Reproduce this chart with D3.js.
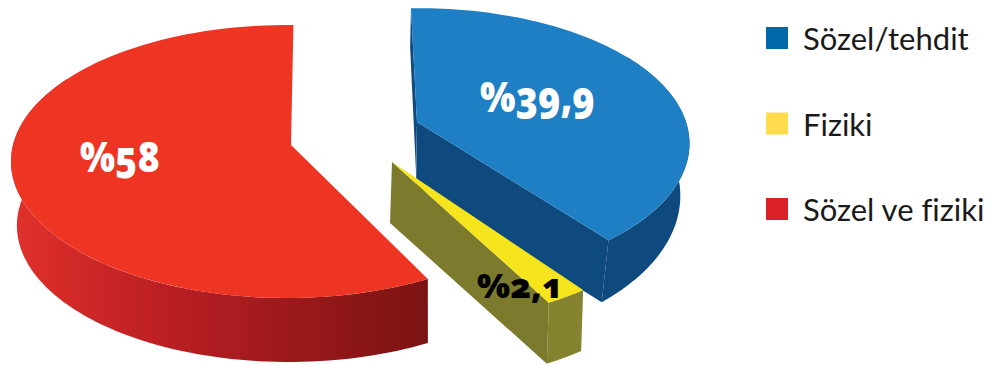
<!DOCTYPE html>
<html lang="tr">
<head>
<meta charset="utf-8">
<script src="https://cdn.jsdelivr.net/npm/d3@7"></script>
<style>
  html, body { margin: 0; padding: 0; background: #fff; }
  svg { display: block; }
  .legend text { font-family: Lato, sans-serif; font-size: 31px; fill: #1a1a1a; }
  .value { font-family: "Open Sans", sans-serif; font-variant-numeric: oldstyle-nums; }
</style>
</head>
<body>
<svg id="chart" width="995" height="365"></svg>
<script>
// Violence type shares (percent)
const categories = ["Sözel/tehdit", "Fiziki", "Sözel ve fiziki"];
const shares = [39.9, 2.1, 58];
const valueLabels = ["%39,9", "%2,1", "%58"];

// Flat colours for the legend keys
const legendColors = ["#0067a8", "#ffdc4e", "#da2128"];

// Geometry of each exploded wedge, indexed like the categories
const wedges = [
  { cx: 419, cy: 122, ax: 417, ay: 122, rx: 267, ry: 132, k: 0.16, turn: -2, depth: 50, depthSlope: 0.1, apexDepth: 64, taper: 0.97, shift: -1,
    top: "#1f7fc4", wall: "#0f4a7e", end: "#0f4a7e", wallFrom: 60, startWall: true, endWall: true },
  { cx: 392, cy: 162, ax: 392, ay: 162, rx: 291, ry: 143.5, k: 0.121, turn: 0, depth: 61, depthSlope: 0, apexDepth: 61, taper: 1, shift: -2,
    top: "#f6e41c", wall: "#85832f", end: "#7c7a2c", wallFrom: 0, startWall: false, endWall: true },
  { cx: 287, cy: 145, ax: 291, ay: 145, rx: 274, ry: 134.5, k: 0.121, turn: 1.5, depth: 64, depthSlope: 0, apexDepth: 64, taper: 0.986, shift: 2,
    top: "#ee3524", wall: "url(#redWall)", end: null, wallFrom: 0, wallTo: 300, startWall: false, endWall: false }
];

const rad = Math.PI / 180;

const svg = d3.select("#chart");

// Outer wall of the red wedge darkens towards its front corner
const grad = svg.append("defs").append("linearGradient")
  .attr("id", "redWall").attr("gradientUnits", "userSpaceOnUse")
  .attr("x1", 15).attr("x2", 428).attr("y1", 0).attr("y2", 0);
[[0, "#e0302a"], [0.38, "#b91e23"], [0.62, "#a01a1c"], [0.85, "#8a1617"], [1, "#7a1213"]]
  .forEach(([o, c]) => grad.append("stop").attr("offset", o).attr("stop-color", c));

// Angular extent comes straight from the shares, clockwise from twelve o'clock
const arcs = d3.pie().sort(null).value(d => d)(shares);

// Ground-plane point on a wedge's rim to screen position, with foreshortening
function rim(w, a) {
  const t = a + w.turn * rad;
  const s = 1 / (1 + w.k * Math.cos(t));
  return [w.cx + w.rx * Math.sin(t) * s, w.cy - w.ry * Math.cos(t) * s];
}
const drop = (w, p) => [
  w.ax + (p[0] - w.ax) * w.taper + w.shift,
  p[1] + w.depth + w.depthSlope * (p[1] - w.ay)
];
const path = d3.line();
const sweep = (a0, a1) => d3.range(0, 91).map(i => a0 + (a1 - a0) * i / 90);

// Back to front: blue, red and then yellow sitting over the blue wall
[0, 2, 1].forEach(i => {
  const w = wedges[i], arc = arcs[i];
  const g = svg.append("g").attr("class", "wedge");
  const apex = [w.ax, w.ay];
  const apexFoot = [w.ax + w.shift, w.ay + w.apexDepth];
  const outerFrom = arc.startAngle + w.wallFrom * rad;
  const outerTo = w.wallTo ? w.wallTo * rad : arc.endAngle;
  const first = rim(w, arc.startAngle), last = rim(w, arc.endAngle);

  if (w.startWall) {
    g.append("path").attr("fill", w.end)
      .attr("d", path([first, apex, drop(w, apex), drop(w, first)]) + "Z");
  }
  if (w.endWall) {
    g.append("path").attr("fill", w.end)
      .attr("d", path([apex, last, drop(w, last), apexFoot]) + "Z");
  }
  const upper = sweep(outerFrom, outerTo).map(a => rim(w, a));
  g.append("path").attr("fill", w.wall)
    .attr("d", path(upper.concat(upper.map(p => drop(w, p)).reverse())) + "Z");

  g.append("path").attr("fill", w.top)
    .attr("d", path([apex].concat(sweep(arc.startAngle, arc.endAngle).map(a => rim(w, a)))) + "Z");
});

// Value labels
const labelSpots = [
  { x: 480, y: 112, size: 43, weight: 800, span: 115, fill: "#fff" },
  { x: 477, y: 298, size: 34, weight: 800, span: 86, fill: "#000" },
  { x: 80, y: 172, size: 42, weight: 800, span: 80, fill: "#fff" }
];
svg.append("g").selectAll("text").data(valueLabels).join("text")
  .attr("class", "value")
  .attr("x", (d, i) => labelSpots[i].x)
  .attr("y", (d, i) => labelSpots[i].y)
  .attr("font-size", (d, i) => labelSpots[i].size)
  .attr("font-weight", (d, i) => labelSpots[i].weight)
  .attr("textLength", (d, i) => labelSpots[i].span)
  .attr("lengthAdjust", "spacingAndGlyphs")
  .attr("fill", (d, i) => labelSpots[i].fill)
  .text(d => d);

// Legend, spaced evenly down the right margin
const legendY = d3.scalePoint().domain(categories).range([27, 198]);
const legend = svg.append("g").attr("class", "legend").selectAll("g").data(categories).join("g")
  .attr("transform", d => `translate(766,${legendY(d)})`);
legend.append("rect").attr("width", 22).attr("height", 22).attr("fill", (d, i) => legendColors[i]);
legend.append("text").attr("x", 37).attr("y", 23).text(d => d);
</script>
</body>
</html>
